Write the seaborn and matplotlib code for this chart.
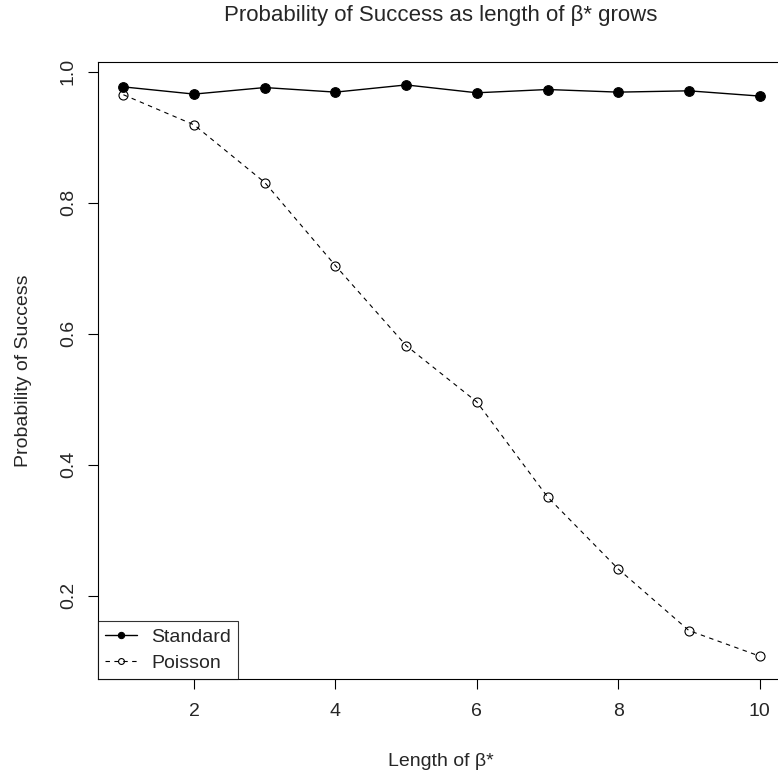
import numpy as np
import pandas as pd
import matplotlib
matplotlib.use("Agg")
import matplotlib.pyplot as plt
import seaborn as sns

# values
lengths = [1, 2, 3, 4, 5, 6, 7, 8, 9, 10]
standard = [0.977, 0.966, 0.976, 0.969, 0.980, 0.968, 0.973, 0.969, 0.971, 0.963]
poisson = [0.965, 0.919, 0.831, 0.704, 0.582, 0.496, 0.351, 0.241, 0.147, 0.108]
x_ticks = [2, 4, 6, 8, 10]
y_ticks = [0.2, 0.4, 0.6, 0.8, 1.0]

df = pd.DataFrame({
    "length": lengths * 2,
    "prob": standard + poisson,
    "method": ["Standard"] * len(lengths) + ["Poisson"] * len(lengths),
})

sns.set_style("ticks")
plt.rcParams['font.family'] = ['Liberation Sans', 'DejaVu Sans']

fig = plt.figure(figsize=(7.78, 7.71), dpi=100)
W, H = 778, 771
ax = fig.add_axes([98 / W, (H - 679) / H, 687 / W, 617 / H])

sns.lineplot(data=df[df.method == "Standard"], x="length", y="prob", ax=ax,
             color="black", linewidth=1.0, marker="o", markersize=7,
             markerfacecolor="black", markeredgecolor="black", label="Standard")
sns.lineplot(data=df[df.method == "Poisson"], x="length", y="prob", ax=ax,
             color="black", linewidth=0.8, marker="o", markersize=6.5,
             markerfacecolor="none", markeredgecolor="black", markeredgewidth=0.8,
             label="Poisson")
ax.lines[1].set_linestyle((0, (4, 4)))

ax.set_xlim(1 - 0.36, 10 + 0.36)
ax.set_ylim(0.073, 1.015)
ax.set_xticks(x_ticks)
ax.set_yticks(y_ticks)
ax.set_xticklabels([str(t) for t in x_ticks])
ax.set_yticklabels([f"{t:.1f}" for t in y_ticks], rotation=90, va="center")
ax.tick_params(axis="both", direction="out", length=7.2, width=0.8, color="black",
               labelsize=14)
ax.tick_params(axis="x", pad=10)
ax.tick_params(axis="y", pad=8)
for s in ax.spines.values():
    s.set_visible(True)
    s.set_color("black")
    s.set_linewidth(0.8)

ax.set_xlabel("")
ax.set_ylabel("")
fig.text(441 / W, 1 - 766 / H, "Length of β*", ha="center", va="baseline", fontsize=14)
fig.text(28 / W, 1 - 370.5 / H, "Probability of Success", rotation=90,
         rotation_mode="anchor", ha="center", va="baseline", fontsize=14)
fig.text(441 / W, 1 - 21 / H, "Probability of Success as length of β* grows",
         ha="center", va="baseline", fontsize=16)

leg = ax.legend(loc="lower left", borderaxespad=0, fancybox=False, frameon=True,
                fontsize=14, handlelength=1.65, handletextpad=0.75, markerscale=0.65,
                borderpad=0.35, labelspacing=0.45)
leg.get_frame().set_edgecolor("black")
leg.get_frame().set_linewidth(0.8)

fig.savefig("out.png", dpi=100)
